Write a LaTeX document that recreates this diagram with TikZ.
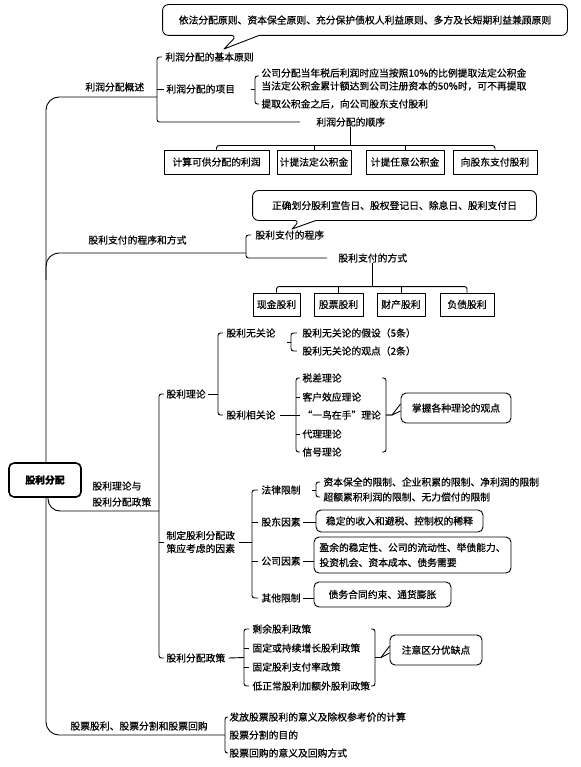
\documentclass[tikz,border=0pt]{standalone}
\usepackage{fontspec}
\setmainfont{Noto Sans CJK SC}[FakeBold=0.5]
\newcommand\wenzi{\fontsize{9.8}{13}\selectfont}
\begin{document}
\begin{tikzpicture}[x=1pt,y=-1pt,line join=round,line width=0.9pt,
  every node/.style={font=\wenzi,inner sep=0pt},
  wz/.style={anchor=west},
  fk/.style={draw,minimum height=24},
  yk/.style={draw,rounded corners=5},
  kuo/.style={rounded corners=2.5}]
\useasboundingbox (0,0) rectangle (580,767);

\node (yuanze) at (365,20) [minimum width=404,minimum height=30] {依法分配原则、资本保全原则、充分保护债权人利益原则、多方及长短期利益兼顾原则};
\coordinate (jian1) at (224,49);
\draw[rounded corners=6] ([xshift=-106]yuanze.south) -- (yuanze.south east) -- (yuanze.north east) -- (yuanze.north west) -- (yuanze.south west) -- ([xshift=-128]yuanze.south) [sharp corners] -- (jian1) -- ([xshift=-106]yuanze.south);
\node[wz] (jiben) at (165,57) {利润分配的基本原则};
\node[wz] (gaishu) at (85,87) {利润分配概述};
\node[wz] (xiangmu) at (166,89) {利润分配的项目};
\node[wz] (x1) at (261,73) {公司分配当年税后利润时应当按照10\%的比例提取法定公积金};
\node[wz] (x2) at (261,86) {当法定公积金累计额达到公司注册资本的50\%时，可不再提取};
\node[wz] (x3) at (261,104) {提取公积金之后，向公司股东支付股利};
\node[wz] (shunxu) at (316,122) {利润分配的顺序};
\node[fk,minimum width=105] (b1) at (216.5,162) {计算可供分配的利润};
\node[fk,minimum width=74] (b2) at (314,162) {计提法定公积金};
\node[fk,minimum width=78] (b3) at (405,162) {计提任意公积金};
\node[fk,minimum width=84] (b4) at (495,162) {向股东支付股利};

\node (riqi) at (394.5,205.5) [minimum width=283,minimum height=29] {正确划分股利宣告日、股权登记日、除息日、股利支付日};
\coordinate (jian2) at (292,229);
\draw[rounded corners=6] ([xshift=-78.5]riqi.south) -- (riqi.south east) -- (riqi.north east) -- (riqi.north west) -- (riqi.south west) -- ([xshift=-94.5]riqi.south) [sharp corners] -- (jian2) -- ([xshift=-78.5]riqi.south);
\node[wz] (chengxu) at (255,235) {股利支付的程序};
\node[wz] (fangshi0) at (88,240) {股利支付的程序和方式};
\node[wz] (fangshi) at (338,258) {股利支付的方式};
\node[fk,minimum width=47,minimum height=23] (c1) at (276.5,304.5) {现金股利};
\node[fk,minimum width=49,minimum height=23] (c2) at (338.5,304.5) {股票股利};
\node[fk,minimum width=48,minimum height=23] (c3) at (401,304.5) {财产股利};
\node[fk,minimum width=54,minimum height=23] (c4) at (467,304.5) {负债股利};

\node[wz] (wuguan) at (226,333) {股利无关论};
\node[wz] (jiashe) at (302,333) {股利无关论的假设（5条）};
\node[wz] (guandian) at (302,351) {股利无关论的观点（2条）};
\node[wz] (lilun) at (166,394) {股利理论};
\node[wz] (xiangguan) at (226,415) {股利相关论};
\node[wz] (shuicha) at (302,378) {税差理论};
\node[wz] (kehu) at (302,397) {客户效应理论};
\node[wz] (niao) at (302,415) {“一鸟在手”理论};
\node[wz] (daili) at (302,434) {代理理论};
\node[wz] (xinhao) at (302,452) {信号理论};
\node[yk,minimum width=110,minimum height=30] (zhangwo) at (456,408) {掌握各种理论的观点};

\node[wz,align=left] (lilunyu) at (92,494) {股利理论与\\[3pt]股利分配政策};
\node[wz,align=left] (zhiding) at (166,542) {制定股利分配政\\策应考虑的因素};
\node[wz] (falv) at (261,490) {法律限制};
\node[wz] (f1) at (323,482) {资本保全的限制、企业积累的限制、净利润的限制};
\node[wz] (f2) at (323,497) {超额累积利润的限制、无力偿付的限制};
\node[wz] (gudong) at (261,522) {股东因素};
\node[yk,minimum width=167,minimum height=22] (gd) at (399.5,521) {稳定的收入和避税、控制权的稀释};
\node[wz] (gongsi) at (261,561) {公司因素};
\node[yk,minimum width=197,minimum height=36,align=left] (gs) at (412.5,555) {盈余的稳定性、公司的流动性、举债能力、\\[2pt]投资机会、资本成本、债务需要};
\node[wz] (qita) at (261,598) {其他限制};
\node[yk,minimum width=137,minimum height=25] (qt) at (382.5,594.5) {债务合同约束、通货膨胀};
\node[wz] (s1) at (252,629) {剩余股利政策};
\node[wz] (s2) at (252,648) {固定或持续增长股利政策};
\node[wz] (s3) at (252,667) {固定股利支付率政策};
\node[wz] (s4) at (252,686) {低正常股利加额外股利政策};
\node[wz] (zhengce) at (166,658) {股利分配政策};
\node[yk,minimum width=92,minimum height=30] (zhuyi) at (436,650) {注意区分优缺点};

\node[wz] (gupiao) at (70,726) {股票股利、股票分割和股票回购};
\node[wz] (g1) at (229,717) {发放股票股利的意义及除权参考价的计算};
\node[wz] (g2) at (229,735) {股票分割的目的};
\node[wz] (g3) at (229,753) {股票回购的意义及回购方式};

\coordinate (k1) at (157,97);
\coordinate (k3) at (246,253);
\coordinate (k5) at (218,394);
\coordinate (k7) at (386,415);
\coordinate (k8) at (375,657.5);
\coordinate (k9) at (159,511);
\coordinate (k10) at (252,542);
\coordinate (k11) at (316,490);
\coordinate (k12) at (244,657.5);
\draw[rounded corners=13] (k1) -| (46,735) -- ([xshift=-4]g2.west);
\draw[rounded corners=13] (k3) -| (46,280);
\node[draw,fill=white,line width=1.6pt,rounded corners=5,minimum width=72,minimum height=34] (root) at (45,480) {\bfseries 股利分配};
\draw[rounded corners=12] ([xshift=3]root.south) |- (k9);

\draw[kuo] ([xshift=-3]jiben.west) -| (k1) |- ([xshift=-16]shunxu.west);
\draw (k1 |- xiangmu.west) -- ([xshift=-2]xiangmu.west);
\draw[kuo] ([xshift=-2,yshift=-3]x1.west) -| ([xshift=-6]x3.west) -- ([xshift=-2]x3.west);
\draw ([xshift=-6]x2.west) ++(0,3) -- ++(-4,0);
\coordinate (h1) at ([yshift=4]b1.north);
\draw (shunxu.south) -- (shunxu.south |- h1);
\draw[kuo] (b1.north) -- (h1) -| (b4.north);
\draw (b2.north) -- (b2.north |- h1);
\draw (b3.north) -- (b3.north |- h1);

\draw[kuo] ([xshift=-4]chengxu.west) -| (k3) |- ([xshift=-11]fangshi.west);
\coordinate (h2) at ([yshift=6]c1.north);
\draw (fangshi.south) -- (fangshi.south |- h2);
\draw[kuo] (c1.north) -- (h2) -| (c4.north);
\draw (c2.north) -- (c2.north |- h2);
\draw (c3.north) -- (c3.north |- h2);

\draw[kuo] ([xshift=-3]wuguan.west) -| (k5) |- ([xshift=-3]xiangguan.west);
\draw ([xshift=2]lilun.east) -- (k5);
\draw[kuo] ([xshift=-5]jiashe.west) -| ([xshift=-11]guandian.west) -- ([xshift=-5]guandian.west);
\draw ([xshift=-11]guandian.west) ++(0,-9) -- ++(-4,0);
\draw[kuo] ([xshift=-2]shuicha.west) -| ([xshift=-6]xinhao.west) -- ([xshift=-2]xinhao.west);
\draw ([xshift=4]xiangguan.east) -- ([xshift=-2]niao.west);
\draw ([xshift=-6]kehu.west) -- ([xshift=-2]kehu.west);
\draw ([xshift=-6]daili.west) -- ([xshift=-2]daili.west);
\draw[kuo] (382,378) -| (k7) |- (382,452);
\draw (k7) -- ++(6,0) -- ([yshift=4]zhangwo.west);
\draw (k7) -- ++(6,0) -- ([yshift=-3]zhangwo.west);

\draw[kuo] ([xshift=-2]lilun.west) -| (k9) |- ([xshift=-2]zhengce.west);
\draw (k9 |- zhiding.west) -- ([xshift=-2]zhiding.west);
\draw ([xshift=3]zhiding.east) -- (k10);
\draw[kuo] ([xshift=-3]falv.west) -| ([xshift=-9]qita.west) -- ([xshift=-3]qita.west);
\draw ([xshift=-9]gudong.west) -- ([xshift=-3]gudong.west);
\draw ([xshift=-9]gongsi.west) -- ([xshift=-3]gongsi.west);
\draw[kuo] ([xshift=-3]f1.west) -| ([xshift=-7]f2.west) -- ([xshift=-3]f2.west);
\draw (k11) -- ++(-4,0);
\draw ([xshift=2]gudong.east) -- (gudong.east -| gd.west);
\draw ([xshift=2]gongsi.east) -- (gongsi.east -| gs.west);
\draw ([xshift=2]qita.east) -- (qita.east -| qt.west);

\draw[kuo] ([xshift=-3]s1.west) -| ([xshift=-8]s4.west) -- ([xshift=-3]s4.west);
\draw ([xshift=-8]s2.west) -- ([xshift=-3]s2.west);
\draw ([xshift=-8]s3.west) -- ([xshift=-3]s3.west);
\draw ([xshift=3]zhengce.east) -- (k12);
\draw[kuo] (371,629) -| (k8) |- (371,686);
\draw (k8) -- ++(6,0) -- ([yshift=4]zhuyi.west);
\draw (k8) -- ++(6,0) -- ([yshift=-3]zhuyi.west);

\draw[kuo] ([xshift=-1]g1.west) -| ([xshift=-4]g3.west) -- ([xshift=-1]g3.west);
\end{tikzpicture}
\end{document}
